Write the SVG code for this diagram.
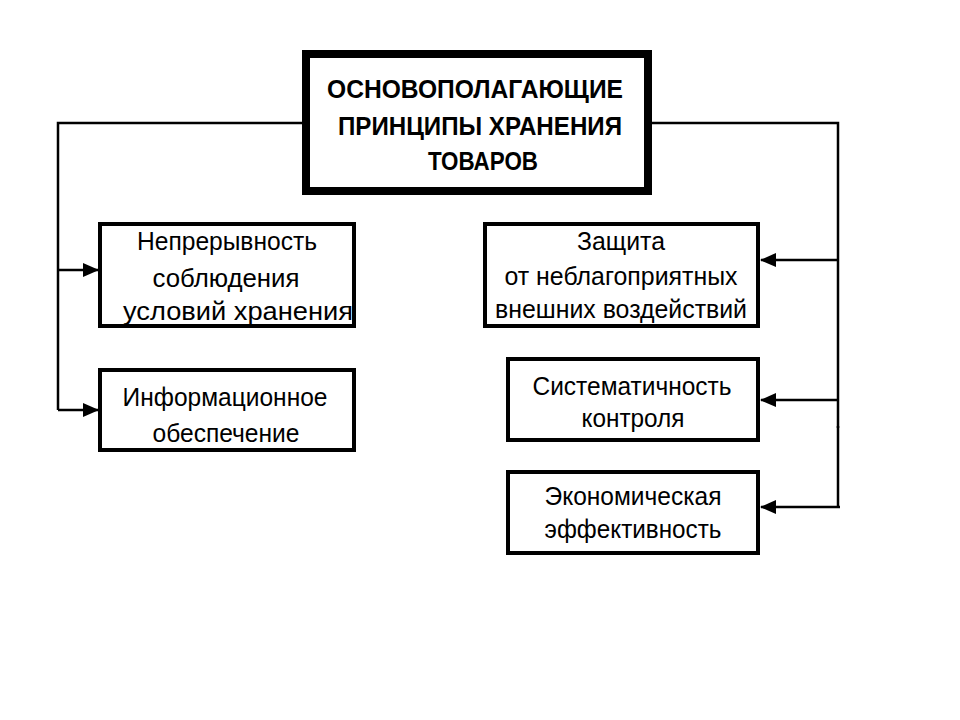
<svg xmlns="http://www.w3.org/2000/svg" width="960" height="720" viewBox="0 0 960 720">
<defs>
<style>
.box{fill:#fff;stroke:#000;stroke-width:4}
.main{fill:#fff;stroke:#000;stroke-width:8}
.t{font-family:"Liberation Sans",Arial,sans-serif;font-size:26px;fill:#000;text-anchor:middle}
.tt{font-family:"Liberation Sans",Arial,sans-serif;font-size:25px;font-weight:bold;fill:#000;text-anchor:middle}
.c{fill:none;stroke:#000;stroke-width:2.5}
</style>
<marker id="ah" markerUnits="userSpaceOnUse" markerWidth="16" markerHeight="14" refX="15" refY="7" orient="auto">
<path d="M0,0 L16,7 L0,14 Z" fill="#000"/>
</marker>
</defs>
<rect width="960" height="720" fill="#fff"/>
<g id="connectors">
<polyline class="c" points="302,123 58,123 58,410"/>
<line class="c" x1="58" y1="270" x2="98" y2="270" marker-end="url(#ah)"/>
<line class="c" x1="58" y1="410" x2="98" y2="410" marker-end="url(#ah)"/>
<polyline class="c" points="652,123 838,123 838,428"/>
<line class="c" x1="838" y1="426" x2="838" y2="508" stroke-width="4"/>
<line class="c" x1="838" y1="260" x2="761" y2="260" marker-end="url(#ah)"/>
<line class="c" x1="838" y1="400" x2="761" y2="400" marker-end="url(#ah)"/>
<line class="c" x1="840" y1="507" x2="761" y2="507" marker-end="url(#ah)"/>
</g>
<g id="main">
<rect class="main" x="306" y="54" width="342" height="137"/>
<text class="tt" x="475" y="98" textLength="296" lengthAdjust="spacingAndGlyphs">ОСНОВОПОЛАГАЮЩИЕ</text>
<text class="tt" x="480" y="135" textLength="284" lengthAdjust="spacingAndGlyphs">ПРИНЦИПЫ ХРАНЕНИЯ</text>
<text class="tt" x="483" y="170" textLength="110" lengthAdjust="spacingAndGlyphs">ТОВАРОВ</text>
</g>
<g id="n1">
<rect class="box" x="100" y="224" width="254" height="102"/>
<text class="t" x="227" y="250" textLength="180" lengthAdjust="spacingAndGlyphs">Непрерывность</text>
<text class="t" x="226" y="287" textLength="147" lengthAdjust="spacingAndGlyphs">соблюдения</text>
<text class="t" x="238" y="320" textLength="230" lengthAdjust="spacingAndGlyphs">условий хранения</text>
</g>
<g id="n2">
<rect class="box" x="100" y="370" width="254" height="80"/>
<text class="t" x="225" y="406" textLength="205" lengthAdjust="spacingAndGlyphs">Информационное</text>
<text class="t" x="226" y="442" textLength="147" lengthAdjust="spacingAndGlyphs">обеспечение</text>
</g>
<g id="n3">
<rect class="box" x="485" y="224" width="273" height="102"/>
<text class="t" x="621" y="250" textLength="88" lengthAdjust="spacingAndGlyphs">Защита</text>
<text class="t" x="621" y="285" textLength="233" lengthAdjust="spacingAndGlyphs">от неблагоприятных</text>
<text class="t" x="621" y="318" textLength="252" lengthAdjust="spacingAndGlyphs">внешних воздействий</text>
</g>
<g id="n4">
<rect class="box" x="508" y="359" width="250" height="81"/>
<text class="t" x="632" y="395" textLength="199" lengthAdjust="spacingAndGlyphs">Систематичность</text>
<text class="t" x="633" y="427" textLength="103" lengthAdjust="spacingAndGlyphs">контроля</text>
</g>
<g id="n5">
<rect class="box" x="508" y="472" width="250" height="81"/>
<text class="t" x="633" y="505" textLength="177" lengthAdjust="spacingAndGlyphs">Экономическая</text>
<text class="t" x="633" y="538" textLength="177" lengthAdjust="spacingAndGlyphs">эффективность</text>
</g>
</svg>
